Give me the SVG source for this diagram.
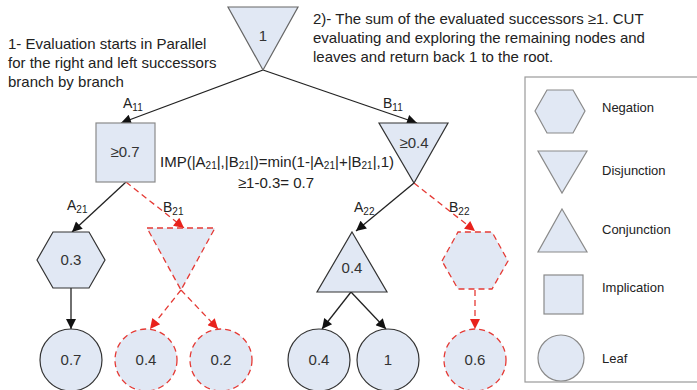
<svg xmlns="http://www.w3.org/2000/svg" width="697" height="390" viewBox="0 0 697 390">
  <defs>
    <marker id="arrow" viewBox="0 0 10 10" refX="10" refY="5" markerWidth="12" markerHeight="10" markerUnits="userSpaceOnUse" orient="auto">
      <path d="M0,0 L10,5 L0,10 z" fill="#111"/>
    </marker>
    <marker id="arrow-red" viewBox="0 0 10 10" refX="10" refY="5" markerWidth="12" markerHeight="10" markerUnits="userSpaceOnUse" orient="auto">
      <path d="M0,0 L10,5 L0,10 z" fill="#e8221c"/>
    </marker>
    <style>
      text { font-family: "Liberation Sans", Arial, sans-serif; fill: #222; }
      .note { font-size: 15px; }
      .val { font-size: 15px; fill: #333; text-anchor: middle; }
      .lbl { font-size: 14px; fill: #222; }
      .sub { font-size: 10px; }
      .leg { font-size: 13px; fill: #222; }
      .shape { fill: #e1e8f4; stroke: #8a8a8a; stroke-width: 1.2; }
      .dark { fill: #e1e8f4; stroke: #333; stroke-width: 1.2; }
      .cut { fill: #e1e8f4; stroke: #e53a35; stroke-width: 1.3; stroke-dasharray: 6 4; }
      .edge { stroke: #222; stroke-width: 1.3; fill: none; marker-end: url(#arrow); }
      .edge-cut { stroke: #e53a35; stroke-width: 1.3; stroke-dasharray: 6 4; fill: none; marker-end: url(#arrow-red); }
    </style>
  </defs>

  <rect width="697" height="390" fill="#fff"/>

  <!-- annotations -->
  <g id="notes">
    <text class="note" x="8" y="49">1- Evaluation starts in Parallel</text>
    <text class="note" x="8" y="68">for the right and left successors</text>
    <text class="note" x="8" y="87">branch by branch</text>
    <text class="note" x="313" y="24">2)- The sum of the evaluated successors ≥1. CUT</text>
    <text class="note" x="313" y="43">evaluating and exploring the remaining nodes and</text>
    <text class="note" x="313" y="62">leaves and return back 1 to the root.</text>
    <text class="note" x="160" y="167">IMP(|A<tspan class="sub" dy="2">21</tspan><tspan dy="-2">|,|B</tspan><tspan class="sub" dy="2">21</tspan><tspan dy="-2">|)=min(1-|A</tspan><tspan class="sub" dy="2">21</tspan><tspan dy="-2">|+|B</tspan><tspan class="sub" dy="2">21</tspan><tspan dy="-2">|,1)</tspan></text>
    <text class="note" x="276" y="188" text-anchor="middle">≥1-0.3= 0.7</text>
  </g>

  <!-- connectors -->
  <g id="connectors">
    <line class="edge" x1="263" y1="70" x2="121" y2="123"/>
    <line class="edge" x1="263" y1="70" x2="417" y2="123"/>
    <line class="edge" x1="126" y1="182" x2="72" y2="232"/>
    <line class="edge-cut" x1="126" y1="182" x2="184" y2="228"/>
    <line class="edge" x1="414" y1="183" x2="356" y2="231"/>
    <line class="edge-cut" x1="414" y1="183" x2="475" y2="231"/>
    <line class="edge" x1="71" y1="288" x2="71" y2="329"/>
    <line class="edge-cut" x1="181" y1="290" x2="150" y2="329"/>
    <line class="edge-cut" x1="181" y1="290" x2="218" y2="329"/>
    <line class="edge" x1="351" y1="292" x2="322" y2="329"/>
    <line class="edge" x1="351" y1="292" x2="386" y2="329"/>
    <line class="edge-cut" x1="475" y1="290" x2="475" y2="329"/>
    <!-- edge labels -->
    <text class="lbl" x="123" y="108">A<tspan class="sub" dy="3">11</tspan></text>
    <text class="lbl" x="383" y="108">B<tspan class="sub" dy="3">11</tspan></text>
    <text class="lbl" x="67" y="210">A<tspan class="sub" dy="3">21</tspan></text>
    <text class="lbl" x="163" y="212">B<tspan class="sub" dy="3">21</tspan></text>
    <text class="lbl" x="354" y="212">A<tspan class="sub" dy="3">22</tspan></text>
    <text class="lbl" x="449" y="212">B<tspan class="sub" dy="3">22</tspan></text>
  </g>

  <!-- root: disjunction -->
  <g id="root">
    <polygon class="shape" points="228,7 298,7 263,70" style="stroke:#666"/>
    <text class="val" x="263" y="41">1</text>
  </g>

  <!-- level 1 -->
  <g id="imp-07">
    <rect class="shape" x="96" y="123" width="59" height="59"/>
    <text class="val" x="125" y="157">≥0.7</text>
  </g>
  <g id="disj-04">
    <polygon class="dark" points="379,123 448,123 414,183"/>
    <text class="val" x="414" y="148">≥0.4</text>
  </g>

  <!-- level 2 -->
  <g id="neg-03">
    <polygon class="dark" points="37,260 53,232 89,232 105,260 89,288 53,288"/>
    <text class="val" x="71" y="265">0.3</text>
  </g>
  <g id="disj-cut">
    <polygon class="cut" points="147,228 215,228 181,290"/>
  </g>
  <g id="conj-04">
    <polygon class="dark" points="352,232 387,292 317,292"/>
    <text class="val" x="352" y="273">0.4</text>
  </g>
  <g id="neg-cut">
    <polygon class="cut" points="442,261 458,232 492,232 508,261 492,289 458,289"/>
  </g>

  <!-- leaves -->
  <g id="leaf-07">
    <circle class="dark" cx="71" cy="360" r="31"/>
    <text class="val" x="71" y="365">0.7</text>
  </g>
  <g id="leaf-04a">
    <circle class="cut" cx="146" cy="360" r="31"/>
    <text class="val" x="146" y="365">0.4</text>
  </g>
  <g id="leaf-02">
    <circle class="cut" cx="221" cy="360" r="31"/>
    <text class="val" x="221" y="365">0.2</text>
  </g>
  <g id="leaf-04b">
    <circle class="dark" cx="319" cy="360" r="31"/>
    <text class="val" x="319" y="365">0.4</text>
  </g>
  <g id="leaf-1">
    <circle class="dark" cx="388" cy="360" r="31"/>
    <text class="val" x="388" y="365">1</text>
  </g>
  <g id="leaf-06">
    <circle class="cut" cx="475" cy="360" r="31"/>
    <text class="val" x="475" y="365">0.6</text>
  </g>

  <!-- legend -->
  <g id="legend">
    <rect x="525" y="77" width="180" height="305" fill="#fff" stroke="#9a9a9a" stroke-width="1.2"/>
    <polygon class="shape" points="535,111 547,90 573,90 585,111 573,133 547,133"/>
    <text class="leg" x="602" y="112">Negation</text>
    <polygon class="shape" points="538,151 587,151 562,193"/>
    <text class="leg" x="602" y="175">Disjunction</text>
    <polygon class="shape" points="562,209 587,252 538,252"/>
    <text class="leg" x="602" y="234">Conjunction</text>
    <rect class="shape" x="544" y="275" width="39" height="39"/>
    <text class="leg" x="602" y="292">Implication</text>
    <circle class="shape" cx="561" cy="358" r="23"/>
    <text class="leg" x="602" y="363">Leaf</text>
  </g>
</svg>
